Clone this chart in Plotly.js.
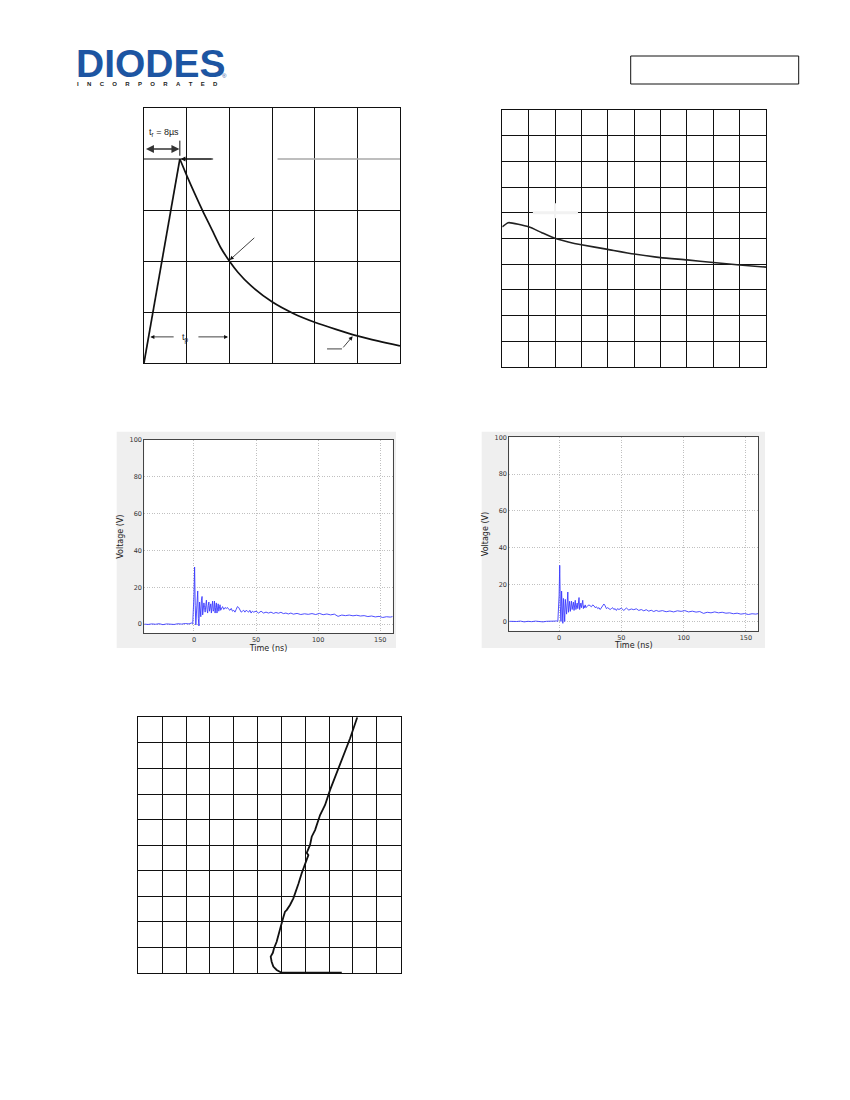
<!DOCTYPE html>
<html>
<head>
<meta charset="utf-8">
<script src="https://cdn.plot.ly/plotly-3.0.1.min.js"></script>
<style>
  body { margin: 0; background: #fff; }
  #page { width: 850px; height: 1100px; }
</style>
</head>
<body>
<div id="page"></div>
<script>
// pulse waveform (percent of peak vs microseconds)
const pulseTime = [0, 8.4, 10, 12, 14, 16, 18, 20, 22, 25, 30, 35, 40, 45, 50, 55, 60];
const pulseLevel = [0, 100, 92, 82.5, 73.5, 65, 56.5, 50, 44.5, 38, 30, 24.3, 20, 16.5, 13.3, 10.7, 8.4];

// upper right curve (grid units)
const curveX = [0, 0.23, 1, 1.5, 2, 2.5, 3, 4, 5, 6, 7, 8, 9, 10];
const curveY = [5.45, 5.61, 5.45, 5.22, 5.0, 4.86, 4.75, 4.57, 4.39, 4.25, 4.16, 4.06, 3.96, 3.88];

// scope captures, time in ns
const scopeTime = [
  -40, -37, -34, -31, -28, -25, -22, -19, -16, -13, -10, -7, -4, -2, -1,
  0, 0.5, 1, 1.5, 2, 2.5, 3, 3.5, 4, 4.5, 5, 5.5, 6, 6.5, 7, 7.5, 8, 8.5, 9, 9.5,
  10, 10.5, 11, 11.5, 12, 12.5, 13, 13.5, 14, 14.5, 15, 15.5, 16, 16.5, 17, 17.5,
  18, 18.5, 19, 19.5, 20, 20.5, 21, 21.5, 22,
  23, 24, 25, 26, 27, 28, 29, 30, 31, 32, 33, 34, 35, 36, 37, 38, 39, 40, 41, 42,
  43, 44, 45, 46, 47, 48,
  50, 52, 54, 56, 58, 60, 62, 64, 66, 68, 70, 72, 74, 76, 78, 80,
  83, 86, 89, 92, 95, 98, 101, 104, 107, 110, 113, 116, 119, 122, 125, 128, 131,
  134, 137, 140, 143, 146, 149, 152, 155, 158, 160
];
const scopeVoltsA = [
  0, -0.2, 0.1, -0.1, 0.2, -0.3, 0.1, 0, -0.2, 0.2, 0, 0.3, 0.1, 0.6, 0.3,
  16, 31, 10, -0.5, 6, 14, 18, 3, -1, 12, 7, 4, 13, 15, 5, 8, 11.5, 9, 6.5, 10,
  13, 8, 6, 10, 12, 7, 8.5, 11, 6, 9, 12.5, 7, 8, 12.5, 6, 9,
  11.5, 6, 8.5, 11, 7, 9, 10.5, 7.5, 8.5,
  9.5, 8, 9, 8.5, 9, 8, 7.5, 8.5, 7, 7.5, 6.5, 8, 9.5, 9, 8, 6.5, 7, 7.5, 6.5, 7.5,
  7, 6.5, 7.5, 6, 7, 6.5,
  7, 6, 7, 6, 6.5, 6, 6.5, 5.8, 6.3, 5.9, 6.4, 5.7, 6, 5.5, 6, 5.4,
  5.8, 5.2, 5.6, 5.3, 5.7, 5.2, 5.8, 5.1, 5.5, 5.0, 5.4, 4.2, 4.9, 4.6, 4.9, 4.5, 4.8,
  4.4, 4.6, 4.1, 4.4, 3.9, 4.2, 3.6, 4.0, 3.8, 4.1
];
const scopeVoltsB = [
  0.1, -0.1, 0, 0.2, -0.2, 0.1, -0.1, 0.2, 0, -0.2, 0.1, 0, 0.2, 0.3, 0.1,
  14, 30.5, 8, 0, 16.5, 6, -1, 12.5, 4, 0, 12, 8, 4, 10, 16, 5, 9, 11, 5.5, 8,
  11, 6.5, 9, 10.5, 6, 9.5, 11.5, 6.5, 8, 10, 7, 9.5, 13, 6.5, 8, 10,
  7.5, 9, 11.5, 7, 8.5, 7.5, 9, 7.5, 8,
  8.5, 9, 8.5, 8, 9, 8.5, 7.5, 8, 7, 7.5, 6.5, 7.5, 9, 9.5, 8.5, 7, 7.5, 7, 6.5, 7,
  7.5, 6.5, 7, 6, 7, 6.5,
  7.2, 6, 7.3, 6.2, 6.8, 6.4, 6.9, 6, 6.5, 5.8, 6.4, 5.6, 6.1, 5.4, 6, 5.5,
  5.9, 5.3, 5.7, 5.2, 5.8, 5.5, 5.9, 5.2, 5.6, 5.1, 5.4, 4.4, 5, 4.7, 5.2, 4.7, 5,
  4.5, 4.7, 4.2, 4.5, 4, 4.3, 3.8, 4.2, 4, 4.3
];
const scopeTicksX = [0, 50, 100, 150];
const scopeTicksY = [0, 20, 40, 60, 80, 100];

// lower left curve (grid units)
const ivX = [8.53, 6.01, 5.80, 5.66, 5.59, 5.55, 5.64, 5.69, 5.80, 5.91, 5.97, 6.08, 6.15, 6.22,
  6.36, 6.50, 6.61, 6.71, 6.85, 6.99, 7.13, 7.06, 7.20, 7.27, 7.41, 7.62, 7.83, 8.04, 8.39,
  8.60, 8.88, 9.18];
const ivY = [0.01, 0.01, 0.12, 0.25, 0.44, 0.64, 0.79, 0.97, 1.22, 1.55, 1.81, 2.18, 2.40, 2.46,
  2.66, 2.92, 3.18, 3.48, 3.90, 4.29, 4.61, 4.70, 5.01, 5.33, 5.59, 6.18, 6.57, 7.16, 8.01,
  8.53, 9.18, 10.0];

const logoLetters = ['I', 'N', 'C', 'O', 'R', 'P', 'O', 'R', 'A', 'T', 'E', 'D'];

const W = 850, H = 1100;
const px = v => v / W;
const py = v => 1 - v / H;

function gridAxis(x0, x1, range, dtick, anchor, vertical) {
  return {
    domain: vertical ? [py(x1), py(x0)] : [px(x0), px(x1)],
    range: range, dtick: dtick, tick0: 0, anchor: anchor,
    showgrid: true, gridcolor: '#111', gridwidth: 1,
    showline: true, linecolor: '#111', linewidth: 1.2, mirror: true,
    zeroline: false, showticklabels: false, ticks: '', fixedrange: true
  };
}

function scopeAxis(x0, x1, range, ticks, anchor, vertical, title) {
  return {
    domain: vertical ? [py(x1), py(x0)] : [px(x0), px(x1)],
    range: range, tickvals: ticks, anchor: anchor,
    showgrid: true, gridcolor: '#b0b0b0', gridwidth: 0.8, griddash: '1px,1.5px',
    showline: true, linecolor: '#444', linewidth: 1, mirror: true,
    zeroline: false, ticks: '', automargin: false,
    tickfont: { family: 'DejaVu Sans', size: 6.5, color: '#333' },
    title: { text: title, font: { family: 'DejaVu Sans', size: 8, color: '#222' }, standoff: vertical ? 4 : 1 }
  };
}

const traces = [
  { x: pulseTime.slice(0, 2), y: pulseLevel.slice(0, 2), xaxis: 'x', yaxis: 'y',
    mode: 'lines', line: { color: '#111', width: 1.7 } },
  { x: pulseTime.slice(1), y: pulseLevel.slice(1), xaxis: 'x', yaxis: 'y',
    mode: 'lines', line: { color: '#111', width: 1.7, shape: 'spline', smoothing: 0.6 } },
  { x: curveX, y: curveY, xaxis: 'x2', yaxis: 'y2',
    mode: 'lines', line: { color: '#222', width: 1.6, shape: 'spline', smoothing: 0.5 } },
  { x: scopeTime, y: scopeVoltsA, xaxis: 'x3', yaxis: 'y3',
    mode: 'lines', line: { color: '#3b3bff', width: 0.9 } },
  { x: scopeTime, y: scopeVoltsB, xaxis: 'x4', yaxis: 'y4',
    mode: 'lines', line: { color: '#3b3bff', width: 0.9 } },
  { x: ivX, y: ivY, xaxis: 'x5', yaxis: 'y5',
    mode: 'lines', line: { color: '#111', width: 1.8 } }
];

const blue = '#1d55a2';
const annotations = [
  { xref: 'paper', yref: 'paper', x: px(74), y: py(63.5), xanchor: 'left', yanchor: 'middle',
    text: '<b>DIODES</b>', showarrow: false,
    font: { family: 'Liberation Sans, Arial', size: 39, color: blue } },
  { xref: 'paper', yref: 'paper', x: px(224.5), y: py(76), xanchor: 'center', yanchor: 'middle',
    text: '®', showarrow: false, font: { family: 'Liberation Sans', size: 6, color: blue } },
  { xref: 'paper', yref: 'paper', x: px(147.5), y: py(84.5), xanchor: 'center', yanchor: 'middle',
    text: '<b>' + logoLetters.join('\u00a0\u00a0\u00a0\u00a0\u00a0') + '</b>', showarrow: false,
    font: { family: 'Liberation Sans', size: 6, color: '#222' } },
  // chart 1 notes
  { xref: 'x', yref: 'y', x: 4.6, y: 113, text: 't<sub>r</sub> = 8µs', showarrow: false,
    font: { family: 'Liberation Sans', size: 9, color: '#222' } },
  { xref: 'x', yref: 'y', axref: 'x', ayref: 'y', x: 8.3, y: 104.9, ax: 0.1, ay: 104.9,
    text: '', showarrow: true, arrowside: 'end+start', arrowhead: 2, startarrowhead: 2,
    arrowsize: 1, arrowwidth: 1.6, arrowcolor: '#333' },
  { xref: 'x', yref: 'y', axref: 'x', ayref: 'y', x: 8.6, y: 100, ax: 16.2, ay: 100,
    text: '', showarrow: true, arrowhead: 2, arrowsize: 0.8, arrowwidth: 1.2, arrowcolor: '#111' },
  { xref: 'x', yref: 'y', axref: 'x', ayref: 'y', x: 20.1, y: 50.5, ax: 26.2, ay: 62,
    text: '', showarrow: true, arrowhead: 2, arrowsize: 1, arrowwidth: 0.8, arrowcolor: '#111' },
  { xref: 'x', yref: 'y', x: 9.7, y: 12.2, text: 't<sub>p</sub>', showarrow: false,
    font: { family: 'Liberation Sans', size: 9, color: '#222' } },
  { xref: 'x', yref: 'y', axref: 'x', ayref: 'y', x: 1.5, y: 12.8, ax: 7.3, ay: 12.8,
    text: '', showarrow: true, arrowhead: 2, arrowsize: 1, arrowwidth: 0.8, arrowcolor: '#111' },
  { xref: 'x', yref: 'y', axref: 'x', ayref: 'y', x: 19.7, y: 12.8, ax: 12.4, ay: 12.8,
    text: '', showarrow: true, arrowhead: 2, arrowsize: 1, arrowwidth: 0.8, arrowcolor: '#111' },
  { xref: 'x', yref: 'y', axref: 'x', ayref: 'y', x: 48.9, y: 13.1, ax: 46.4, ay: 6.9,
    text: '', showarrow: true, arrowhead: 2, arrowsize: 1, arrowwidth: 0.8, arrowcolor: '#111' }
];

const shapes = [
  // logo stripe
  { type: 'line', xref: 'paper', yref: 'paper', x0: px(76), x1: px(200), y0: py(62.5), y1: py(62.5),
    line: { color: '#fff', width: 1.2 }, layer: 'above' },
  // header box
  { type: 'rect', xref: 'paper', yref: 'paper', x0: px(630.7), x1: px(798.7), y0: py(84), y1: py(56),
    line: { color: '#111', width: 1 } },
  // chart 1 peak level line
  { type: 'line', xref: 'x', yref: 'y', x0: 0, x1: 16.2, y0: 100, y1: 100, line: { color: '#111', width: 1.1 } },
  { type: 'line', xref: 'x', yref: 'y', x0: 31.3, x1: 60, y0: 100, y1: 100, line: { color: '#a8a8a8', width: 1.5 } },
  { type: 'line', xref: 'x', yref: 'y', x0: 8.4, x1: 8.4, y0: 101.6, y1: 109, line: { color: '#111', width: 1 } },
  { type: 'line', xref: 'x', yref: 'y', x0: 42.9, x1: 46.4, y0: 6.9, y1: 6.9, line: { color: '#111', width: 0.8 } },
  // chart 2 erased label spot
  { type: 'rect', xref: 'x2', yref: 'y2', x0: 1.16, x1: 2.87, y0: 5.94, y1: 6.06,
    fillcolor: '#f2f2f2', line: { width: 0 }, layer: 'above' },
  { type: 'rect', xref: 'x2', yref: 'y2', x0: 1.96, x1: 2.04, y0: 5.78, y1: 6.37,
    fillcolor: '#f2f2f2', line: { width: 0 }, layer: 'above' },
  // scope panels
  { type: 'rect', xref: 'paper', yref: 'paper', x0: px(116.7), x1: px(396), y0: py(648), y1: py(431.7),
    fillcolor: '#efefef', line: { width: 0 }, layer: 'below' },
  { type: 'rect', xref: 'paper', yref: 'paper', x0: px(144.3), x1: px(392.7), y0: py(633.3), y1: py(440),
    fillcolor: '#fff', line: { width: 0 }, layer: 'below' },
  { type: 'rect', xref: 'paper', yref: 'paper', x0: px(481.7), x1: px(765), y0: py(648), y1: py(431.7),
    fillcolor: '#efefef', line: { width: 0 }, layer: 'below' },
  { type: 'rect', xref: 'paper', yref: 'paper', x0: px(509.3), x1: px(758.3), y0: py(630.7), y1: py(437.3),
    fillcolor: '#fff', line: { width: 0 }, layer: 'below' }
];

const pulseX = gridAxis(144, 400, [0, 60], 10, 'y', false);
const pulseY = gridAxis(108, 363, [0, 125], 25, 'x', true);
pulseY.tickvals = [0, 25, 50, 75, 125];

const layout = {
  width: W, height: H,
  margin: { l: 0, r: 0, t: 0, b: 0 },
  paper_bgcolor: '#fff', plot_bgcolor: 'rgba(0,0,0,0)',
  showlegend: false,
  xaxis: pulseX,
  yaxis: pulseY,
  xaxis2: gridAxis(502.3, 766, [0, 10], 1, 'y2', false),
  yaxis2: gridAxis(110, 366.7, [0, 10], 1, 'x2', true),
  xaxis3: scopeAxis(144.3, 392.7, [-40, 160], scopeTicksX, 'y3', false, 'Time (ns)'),
  yaxis3: scopeAxis(440, 633.3, [-5, 100], scopeTicksY, 'x3', true, 'Voltage (V)'),
  xaxis4: scopeAxis(509.3, 758.3, [-40, 160], scopeTicksX, 'y4', false, 'Time (ns)'),
  yaxis4: scopeAxis(437.3, 630.7, [-5, 100], scopeTicksY, 'x4', true, 'Voltage (V)'),
  xaxis5: gridAxis(138.3, 400.7, [0, 11], 1, 'y5', false),
  yaxis5: gridAxis(717.3, 973, [0, 10], 1, 'x5', true),
  annotations: annotations,
  shapes: shapes
};

Plotly.newPlot('page', traces, layout, { staticPlot: true, displayModeBar: false });
</script>
</body>
</html>
